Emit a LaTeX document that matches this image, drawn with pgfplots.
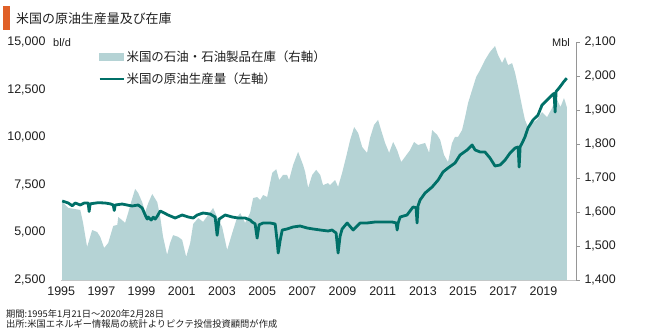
\documentclass[border=0pt]{standalone}
\usepackage{fontspec}
\setmainfont{Liberation Sans}
\newfontfamily\jp{Noto Sans CJK JP}
\usepackage{pgfplots}
\pgfplotsset{compat=1.18}
\definecolor{areacol}{RGB}{181,211,213}
\definecolor{linecol}{RGB}{0,112,104}
\definecolor{barcol}{RGB}{224,96,40}
\definecolor{axcol}{RGB}{150,150,150}
\definecolor{txt}{RGB}{30,30,30}
\begin{document}
\begin{tikzpicture}
\path[use as bounding box] (0,0) rectangle (650bp,-334bp);
\fill[barcol] (3bp,-6bp) rectangle (10bp,-30bp);
\node[anchor=base west,inner sep=0,text=txt] at (16bp,-23bp) {\jp\fontsize{13}{15}\selectfont 米国の原油生産量及び在庫};
% inventory (right axis)
\begin{axis}[
  at={(61bp,-280bp)}, anchor=south west, scale only axis,
  width=515bp, height=238bp,
  xmin=1994.99, xmax=2020.62, ymin=1400, ymax=2100,
  axis x line*=bottom, axis y line*=right,
  x axis line style={draw=gray!45,-},
  y axis line style={draw=axcol,-},
  xtick=\empty,
  ytick={1400,1500,...,2100},
  scaled y ticks=false,
  tick align=outside, major tick length=4bp,
  ytick style={draw=axcol},
  yticklabel style={font=\fontsize{12.5}{14}\selectfont, text=txt, xshift=1bp},
  /pgf/number format/.cd, 1000 sep={,}, assume math mode=true,
]
\addplot[fill=areacol, draw=none] coordinates {
(1995.05,1400) (1995.05,1630) (1995.35,1612) (1995.95,1606) (1996.09,1568)
(1996.29,1497) (1996.54,1547) (1996.79,1541) (1996.94,1527) (1997.14,1494)
(1997.34,1509) (1997.59,1559) (1997.79,1562) (1997.84,1585) (1998.03,1576)
(1998.18,1568) (1998.33,1597) (1998.48,1629) (1998.68,1668) (1998.83,1656)
(1999.03,1629) (1999.18,1600) (1999.33,1626) (1999.53,1653) (1999.78,1629)
(1999.93,1585) (2000.07,1527) (2000.27,1474) (2000.42,1509) (2000.57,1532)
(2000.82,1527) (2001.02,1518) (2001.22,1468) (2001.42,1509) (2001.57,1565)
(2001.82,1582) (2002.06,1571) (2002.31,1591) (2002.56,1612) (2002.76,1585)
(2003.01,1556) (2003.26,1488) (2003.51,1538) (2003.76,1585) (2003.91,1597)
(2004.15,1568) (2004.40,1597) (2004.55,1641) (2004.75,1644) (2004.90,1635)
(2005.05,1650) (2005.25,1644) (2005.50,1715) (2005.70,1726) (2005.85,1694)
(2006.04,1709) (2006.24,1709) (2006.34,1694) (2006.54,1738) (2006.79,1777)
(2007.04,1738) (2007.14,1718) (2007.29,1671) (2007.49,1709) (2007.69,1724)
(2007.89,1709) (2008.03,1679) (2008.28,1685) (2008.38,1679) (2008.63,1694)
(2008.78,1674) (2008.98,1715) (2009.18,1762) (2009.38,1812) (2009.58,1850)
(2009.78,1832) (2009.98,1791) (2010.22,1774) (2010.37,1818) (2010.57,1856)
(2010.77,1871) (2010.92,1841) (2011.12,1803) (2011.32,1774) (2011.52,1806)
(2011.72,1782) (2011.92,1747) (2012.11,1762) (2012.36,1782) (2012.56,1806)
(2012.76,1797) (2013.11,1803) (2013.31,1774) (2013.46,1841) (2013.71,1827)
(2013.86,1812) (2014.05,1768) (2014.25,1747) (2014.45,1803) (2014.60,1821)
(2014.75,1821) (2014.95,1841) (2015.10,1879) (2015.25,1921) (2015.45,1959)
(2015.65,1997) (2015.85,2018) (2016.09,2047) (2016.34,2071) (2016.59,2088)
(2016.74,2062) (2016.94,2038) (2017.09,2056) (2017.24,2032) (2017.44,2038)
(2017.59,2009) (2017.74,1968) (2017.94,1909) (2018.08,1871) (2018.23,1850)
(2018.43,1862) (2018.68,1871) (2018.93,1894) (2019.18,1879) (2019.43,1906)
(2019.63,1935) (2019.85,1909) (2020.02,1935) (2020.10,1921) (2020.16,1909)
(2020.16,1400)
} \closedcycle;
\end{axis}
% production (left axis)
\begin{axis}[
  at={(61bp,-280bp)}, anchor=south west, scale only axis,
  width=515bp, height=238bp,
  xmin=1994.99, xmax=2020.62, ymin=2500, ymax=15000,
  axis x line*=bottom, axis y line*=left,
  axis line style={draw=none},
  major tick length=0pt,
  xtick={1995,1997,...,2019},
  xticklabels={1995,1997,1999,2001,2003,2005,2007,2009,2011,2013,2015,2017,2019},
  ytick={2500,5000,...,15000},
  scaled y ticks=false,
  xticklabel style={font=\fontsize{12.5}{14}\selectfont, text=txt, yshift=-3bp},
  yticklabel style={font=\fontsize{12.5}{14}\selectfont, text=txt, xshift=-12bp},
  legend style={at={(0.072,0.97)}, anchor=north west, draw=none, fill=none,
    font=\jp\fontsize{12.5}{15}\selectfont, text=txt, row sep=7bp,
    inner sep=0pt, nodes={inner sep=1.5bp}},
  legend cell align=left,
  /pgf/number format/.cd, 1000 sep={,}, assume math mode=true,
]
\addlegendimage{area legend, legend image code/.code={\fill[areacol] (0bp,-3.5bp) rectangle (24bp,3.5bp);}}
\addlegendentry{米国の石油・石油製品在庫（右軸）}
\addplot[linecol, line width=2.8bp, line join=round,
  legend image code/.code={\draw[linecol, line width=2.8bp] (0bp,0bp) -- (24bp,0bp);}] coordinates {
(1995.05,6650) (1995.35,6544) (1995.55,6400) (1995.70,6544) (1995.95,6440)
(1996.14,6540) (1996.34,6544) (1996.39,6100) (1996.44,6500) (1996.84,6560)
(1997.19,6544) (1997.44,6500) (1997.59,6440) (1997.64,6150) (1997.69,6440)
(1998.03,6490) (1998.53,6387) (1998.83,6440) (1999.03,6282) (1999.18,5914)
(1999.28,5700) (1999.33,5809) (1999.48,5650) (1999.58,5800) (1999.68,5700)
(1999.78,5850) (1999.93,6124) (2000.32,5914) (2000.67,5756) (2001.02,5914)
(2001.32,5809) (2001.57,5756) (2001.77,5914) (2002.06,6019) (2002.41,5966)
(2002.66,5809) (2002.76,4850) (2002.86,5700) (2003.16,5914) (2003.51,5809)
(2003.81,5756) (2004.15,5756) (2004.40,5650) (2004.50,5546) (2004.65,5450)
(2004.75,4700) (2004.85,5400) (2005.05,5494) (2005.40,5494) (2005.65,5441)
(2005.75,4500) (2005.80,3918) (2005.90,4600) (2006.00,5126) (2006.24,5179)
(2006.54,5284) (2006.89,5336) (2007.24,5231) (2007.54,5179) (2007.89,5126)
(2008.28,5074) (2008.48,5126) (2008.68,4969) (2008.78,3918) (2008.88,4800)
(2008.98,5179) (2009.23,5494) (2009.53,5126) (2009.88,5494) (2010.22,5494)
(2010.62,5546) (2011.02,5546) (2011.47,5546) (2011.67,5500) (2011.72,5126)
(2011.77,5500) (2011.87,5809) (2012.21,5914) (2012.51,6334) (2012.66,6300)
(2012.71,5494) (2012.76,6400) (2012.86,6702) (2013.11,7070) (2013.46,7385)
(2013.76,7752) (2014.00,8172) (2014.25,8382) (2014.60,8645) (2014.85,9065)
(2015.20,9328) (2015.45,9591) (2015.60,9328) (2015.85,9223) (2016.09,9223)
(2016.34,8907) (2016.59,8487) (2016.84,8540) (2017.09,8802) (2017.34,9170)
(2017.59,9433) (2017.74,9485) (2017.79,8435) (2017.84,9500) (2017.94,9695)
(2018.08,10011) (2018.23,10483) (2018.48,10903) (2018.73,11166) (2018.93,11691)
(2019.18,11954) (2019.43,12216) (2019.53,12300) (2019.58,11324) (2019.63,12400)
(2019.78,12584) (2020.00,12899) (2020.16,13100)
};
\addlegendentry{米国の原油生産量（左軸）}
\end{axis}
\node[anchor=west,inner sep=0,text=txt] at (53bp,-43bp) {\fontsize{11}{13}\selectfont bl/d};
\node[anchor=east,inner sep=0,text=txt] at (570bp,-43bp) {\fontsize{11}{13}\selectfont Mbl};
\node[anchor=base west,inner sep=0,text=txt] at (6bp,-317bp) {\jp\fontsize{9.3}{11}\selectfont 期間:1995年1月21日～2020年2月28日};
\node[anchor=base west,inner sep=0,text=txt] at (6bp,-327.5bp) {\jp\fontsize{9.3}{11}\selectfont 出所:米国エネルギー情報局の統計よりピクテ投信投資顧問が作成};
\end{tikzpicture}
\end{document}
